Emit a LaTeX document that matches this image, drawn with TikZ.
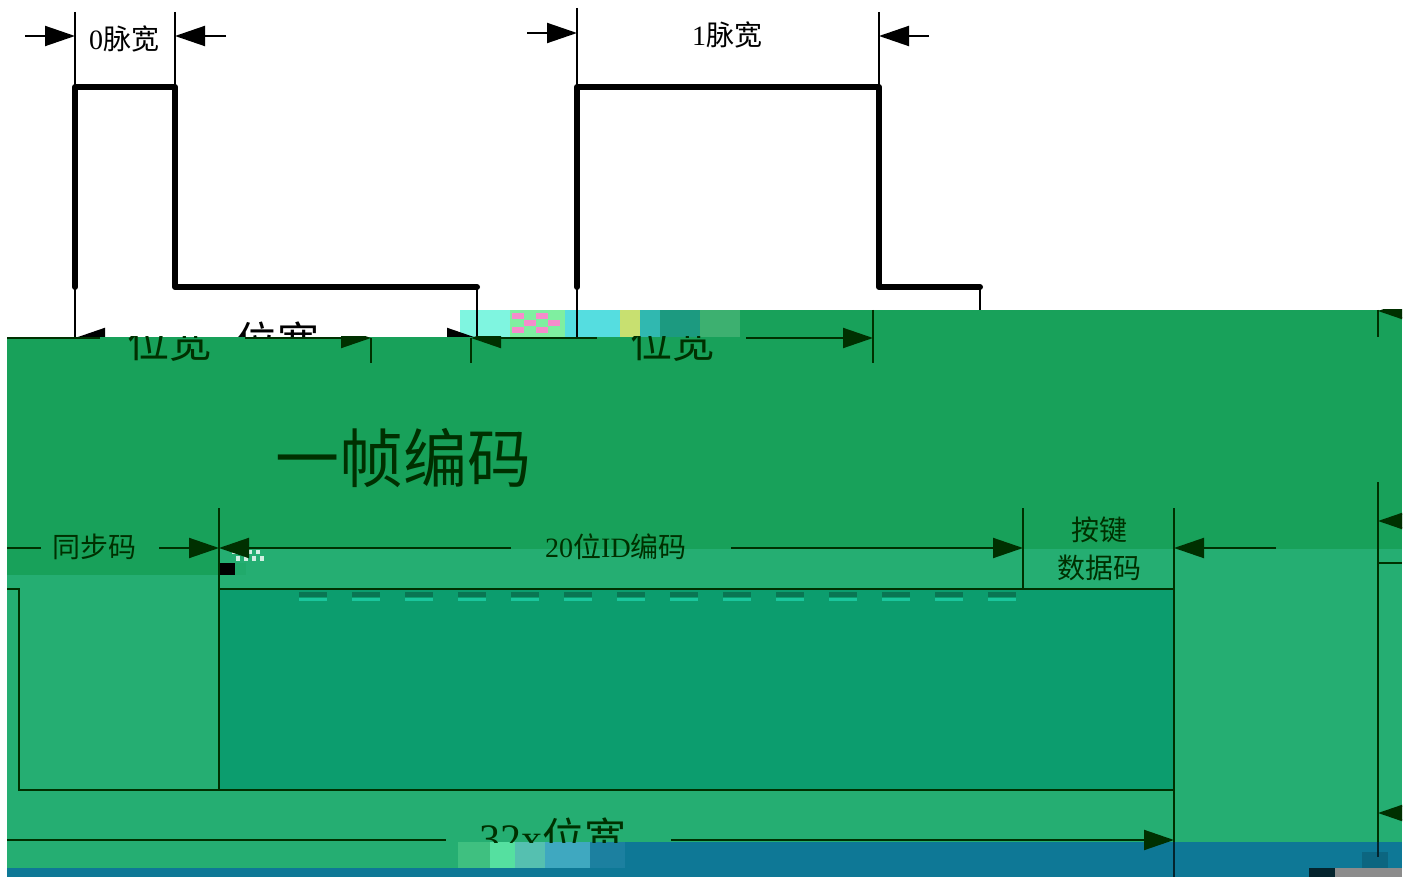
\documentclass[tikz,border=0pt]{standalone}
\usepackage{fontspec}
\setmainfont{Liberation Serif}
\newfontfamily\cjk{Noto Sans CJK SC}
\usetikzlibrary{arrows.meta}
\newcommand{\arw}{-{Triangle[length=15pt,width=10pt]}}
\definecolor{bandA}{HTML}{18A15A}
\definecolor{bandB}{HTML}{25AE72}
\definecolor{bandC}{HTML}{0C9D6E}
\definecolor{bandD}{HTML}{0E7896}
\definecolor{ink}{HTML}{003000}
\tikzset{
  wave/.style={line width=3pt,line join=round,line cap=round},
  thin line/.style={line width=1pt},
  lblS/.style={font=\fontsize{14}{16}\selectfont},
  lblM/.style={font=\fontsize{21}{23}\selectfont},
  lblL/.style={font=\fontsize{32}{35}\selectfont}
}
\begin{document}
\begin{tikzpicture}[x=.5pt,y=-.5pt]
\useasboundingbox (0,0) rectangle (1409,877);
%colour bands
\fill[bandA] (460,310) rectangle (1402,337);
\fill[bandA] (7,337) rectangle (1402,549);
\fill[bandA] (7,549) rectangle (219,575);
\fill[bandB] (219,549) rectangle (1402,589);
\fill[bandB] (7,575) rectangle (219,842);
\fill[bandB] (219,589) rectangle (1402,842);
\fill[bandC] (219,589) rectangle (1174,790);
\fill[bandB] (7,842) rectangle (460,868);
\fill[bandD] (460,842) rectangle (1402,877);
\fill[bandD] (7,868) rectangle (460,877);
\fill[black!70!bandD] (1309,868) rectangle (1335,877);
\fill[black!45] (1335,868) rectangle (1402,877);
\fill[bandD!85!black] (1362,852) rectangle (1388,868);
%damaged blocks
\foreach \xa/\xb/\col in {460/510/7FF5E0,510/565/7FEFA0,565/620/55DDE0,620/640/C8E070,640/660/30B8B0,660/700/1C9A80,700/740/3DB070}{
  \definecolor{blk}{HTML}{\col}
  \fill[blk] (\xa,310) rectangle (\xb,337);
}
\foreach \xa/\ya in {512/313,536/313,524/320,548/320,512/327,536/327}{
  \fill[magenta!45] (\xa,\ya) rectangle (\xa+12,\ya+6);
}
\foreach \xa/\xb/\col in {458/490/3FC080,490/515/55E0A0,515/545/55C0B0,545/590/3FA8C0,590/625/1C80A0}{
  \definecolor{blk}{HTML}{\col}
  \fill[blk] (\xa,842) rectangle (\xb,868);
}
\fill[black] (219,563) rectangle (235,575);
\fill[bandB!70!bandA] (235,563) rectangle (246,575);
\foreach \xa in {232,240,...,256}{
  \fill[white!80!bandB] (\xa,550) rectangle (\xa+4,554);
  \fill[white!80!bandB] (\xa+4,556) rectangle (\xa+8,561);
}
%upper pulses
\coordinate (a0) at (75,287);
\coordinate (a1) at (75,87);
\coordinate (a2) at (175,87);
\coordinate (a3) at (175,287);
\coordinate (a4) at (477,287);
\coordinate (b0) at (577,287);
\coordinate (b1) at (577,87);
\coordinate (b2) at (879,87);
\coordinate (b3) at (879,287);
\coordinate (b4) at (980,287);
\draw[wave] (a0) -- (a1) -- (a2) -- (a3) -- (a4);
\draw[wave] (b0) -- (b1) -- (b2) -- (b3) -- (b4);
\coordinate (a1t) at (75,12);
\coordinate (a2t) at (175,12);
\coordinate (b1t) at (577,8);
\coordinate (b2t) at (879,12);
\draw[thin line] (a1t) -- (a1);
\draw[thin line] (a2t) -- (a2);
\draw[thin line] (b1t) -- (b1);
\draw[thin line] (b2t) -- (b2);
\coordinate (a0b) at (75,337);
\coordinate (a4b) at (477,337);
\coordinate (b0b) at (577,337);
\coordinate (b4b) at (980,310);
\draw[thin line] (a0) -- (a0b);
\draw[thin line] (a4) -- (a4b);
\draw[thin line] (b0) -- (b0b);
\draw[thin line] (b4) -- (b4b);
\coordinate (p1) at (25,36);
\coordinate (p2) at (75,36);
\coordinate (p3) at (226,36);
\coordinate (p4) at (175,36);
\coordinate (p5) at (527,33);
\coordinate (p6) at (577,33);
\coordinate (p7) at (929,36);
\coordinate (p8) at (879,36);
\draw[thin line,\arw] (p1) -- (p2);
\draw[thin line,\arw] (p3) -- (p4);
\draw[thin line,\arw] (p5) -- (p6);
\draw[thin line,\arw] (p7) -- (p8);
\node[lblS] (zeroW) at (124,39) {0{\cjk 脉宽}};
\node[lblS] (oneW) at (727,35) {1{\cjk 脉宽}};
%upper half of the width marks
\begin{scope}
\clip (0,0) rectangle (1409,337);
\node[lblM] (bitU) at (277,342) {\cjk 位宽};
\coordinate (u1) at (105,338);
\coordinate (u2) at (75,338);
\coordinate (u3) at (448,338);
\coordinate (u4) at (477,338);
\draw[thin line,\arw] (u1) -- (u2);
\draw[thin line,\arw] (u3) -- (u4);
\end{scope}
%lower half of the width marks
\begin{scope}[ink]
\begin{scope}
\clip (0,337) rectangle (1409,877);
\node[lblM,ink] (bitA) at (169,342) {\cjk 位宽};
\node[lblM,ink] (bitB) at (672,342) {\cjk 位宽};
\coordinate (c1) at (7,338);
\coordinate (c2) at (100,338);
\coordinate (c3) at (245,338);
\coordinate (c4) at (371,338);
\coordinate (c5) at (371,363);
\coordinate (c6) at (597,338);
\coordinate (c7) at (471,338);
\coordinate (c8) at (471,363);
\draw[thin line] (c1) -- (c2);
\draw[thin line,\arw] (c3) -- (c4);
\draw[thin line] (c4) -- (c5);
\draw[thin line,\arw] (c6) -- (c7);
\draw[thin line] (c7) -- (c8);
\end{scope}
\coordinate (c9) at (746,338);
\coordinate (c10) at (873,338);
\coordinate (c11) at (873,310);
\coordinate (c12) at (873,363);
\draw[thin line,\arw] (c9) -- (c10);
\draw[thin line] (c11) -- (c12);
\node[lblL,ink] (frame) at (403,458) {\cjk 一帧编码};
%code field marks
\coordinate (f1) at (7,548);
\coordinate (f2) at (41,548);
\coordinate (f3) at (159,548);
\coordinate (f4) at (219,548);
\coordinate (f5) at (511,548);
\coordinate (f6) at (731,548);
\coordinate (f7) at (1023,548);
\coordinate (f8) at (1276,548);
\coordinate (f9) at (1174,548);
\draw[thin line] (f1) -- (f2);
\draw[thin line,\arw] (f3) -- (f4);
\draw[thin line,\arw] (f5) -- (f4);
\draw[thin line,\arw] (f6) -- (f7);
\draw[thin line,\arw] (f8) -- (f9);
\node[lblS,ink] (syncC) at (95,547) {\cjk 同步码};
\node[lblS,ink] (idC) at (616,547) {20{\cjk 位}ID{\cjk 编码}};
\node[lblS,ink] (keyA) at (1099,530) {\cjk 按键};
\node[lblS,ink] (keyB) at (1099,568) {\cjk 数据码};
%code pulse
\coordinate (g1) at (7,589);
\coordinate (g2) at (19,589);
\coordinate (g3) at (19,790);
\coordinate (g4) at (219,790);
\coordinate (g5) at (219,589);
\coordinate (g6) at (1174,589);
\coordinate (g7) at (1174,790);
\coordinate (g8) at (219,508);
\coordinate (g9) at (1023,508);
\coordinate (g10) at (1023,589);
\coordinate (g11) at (1174,508);
\coordinate (g12) at (1174,842);
\draw[thin line] (g1) -- (g2) -- (g3) -- (g4) -- (g7) -- (g6) -- (g5);
\draw[thin line] (g8) -- (g4);
\draw[thin line] (g9) -- (g10);
\draw[thin line] (g11) -- (g12);
\foreach \i in {0,...,13}{
  \fill[bandC!75!black] (299+53*\i,592) rectangle (327+53*\i,597);
  \fill[bandB!70!cyan] (299+53*\i,598) rectangle (327+53*\i,601);
}
%right edge marks
\coordinate (r1) at (1378,482);
\coordinate (r2) at (1378,842);
\coordinate (r3) at (1378,310);
\coordinate (r4) at (1378,337);
\coordinate (r5) at (1402,563);
\coordinate (r6) at (1378,563);
\draw[thin line] (r1) -- (r2);
\draw[thin line] (r3) -- (r4);
\draw[thin line] (r6) -- (r5);
\begin{scope}
\clip (0,310) rectangle (1402,877);
\coordinate (h1) at (1408,521);
\coordinate (h2) at (1378,521);
\coordinate (h3) at (1408,813);
\coordinate (h4) at (1378,813);
\coordinate (h5) at (1408,311);
\coordinate (h6) at (1378,311);
\draw[thin line,\arw] (h1) -- (h2);
\draw[thin line,\arw] (h3) -- (h4);
\draw[thin line,\arw] (h5) -- (h6);
\end{scope}
%total width mark
\coordinate (t1) at (7,840);
\coordinate (t2) at (446,840);
\coordinate (t3) at (671,840);
\coordinate (t4) at (1174,840);
\draw[thin line] (t1) -- (t2);
\draw[thin line,\arw] (t3) -- (t4);
\begin{scope}
\clip (0,0) rectangle (1409,842);
\node[lblM,ink] (total) at (553,838) {32x{\cjk 位宽}};
\end{scope}
\end{scope}
\coordinate (e1) at (1174,842);
\coordinate (e2) at (1174,877);
\coordinate (e3) at (1378,842);
\coordinate (e4) at (1378,857);
\draw[thin line,black!70!bandD] (e1) -- (e2);
\draw[thin line,black!70!bandD] (e3) -- (e4);
\end{tikzpicture}
\end{document}
